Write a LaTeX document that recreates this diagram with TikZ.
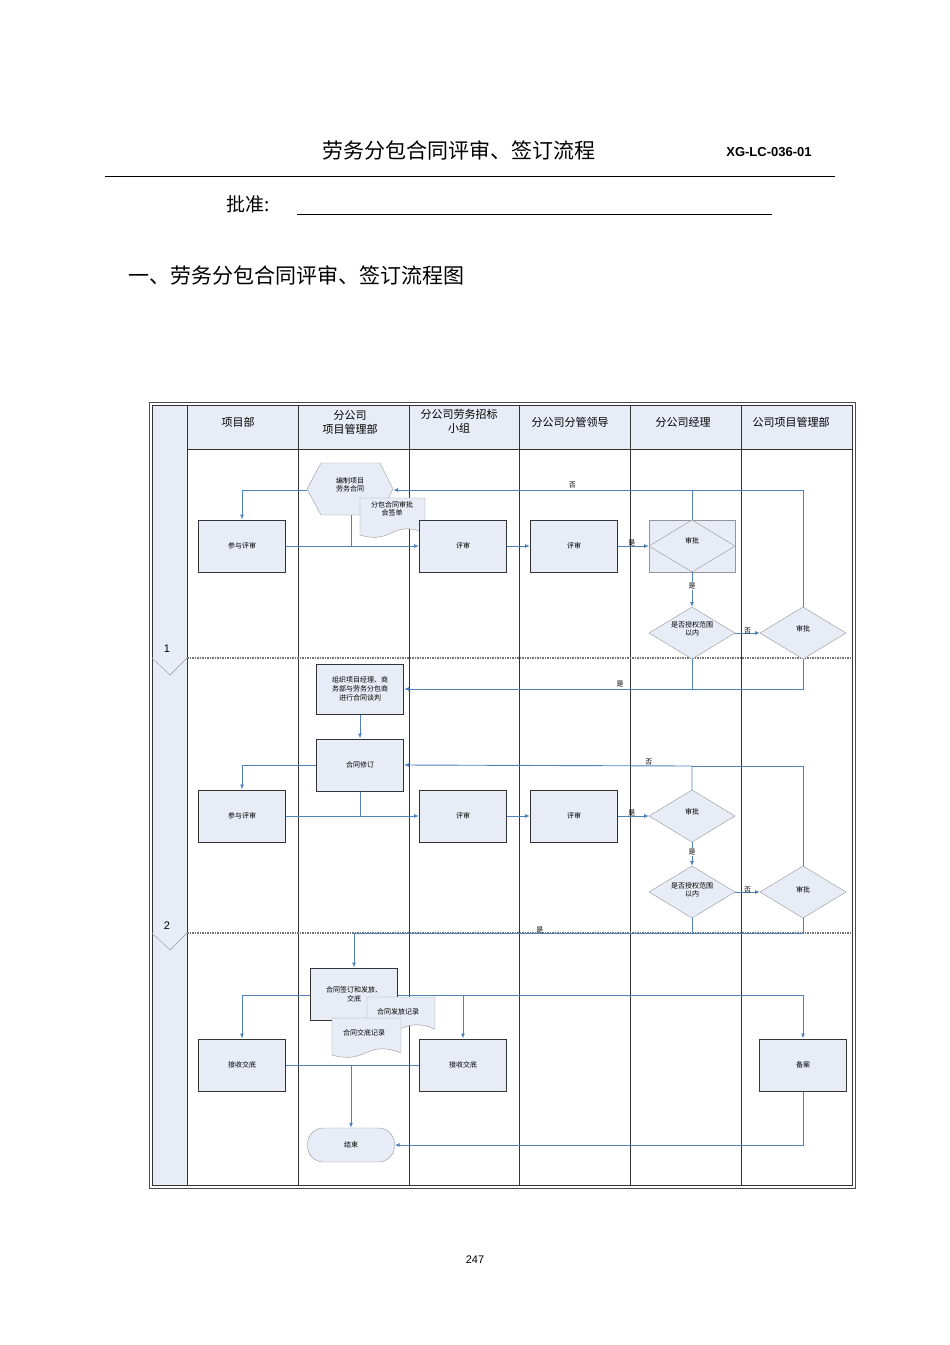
\documentclass[tikz,border=0pt]{standalone}
\usepackage{fontspec}
\newfontfamily\cjk{Noto Sans CJK SC}
\newfontfamily\hv{Liberation Sans}
\usetikzlibrary{arrows.meta}
\definecolor{lf}{RGB}{232,236,246}
\definecolor{eb}{RGB}{79,129,189}
\definecolor{dg}{RGB}{150,150,150}
\tikzset{
 box/.style={draw=black!80,line width=1pt,fill=lf,minimum width=87pt,minimum height=52pt,font=\cjk\fontsize{7}{9}\selectfont,inner sep=1pt,align=center},
 dia/.style={draw=dg,fill=lf,font=\cjk\fontsize{7}{9}\selectfont,align=center},
 ed/.style={draw=eb,line width=0.9pt,-{Latex[length=5pt,width=4pt]}},
 ln/.style={draw=eb,line width=0.9pt},
 lab/.style={font=\cjk\fontsize{7}{8}\selectfont,inner sep=1pt},
 hd/.style={font=\cjk\fontsize{11}{14}\selectfont,align=center}
}
\newcommand{\mydoc}[5]{% x1 y1 x2 y2 name/text
 \path[draw=dg,fill=lf] (#1,#2)--(#3,#2)--(#3,#4-4) .. controls ({(#1+#3)/2},#4-18) and ({(#1+#3)/2},#4+8) .. (#1,#4-2) -- cycle;}
\begin{document}
\begin{tikzpicture}[x=1pt,y=-1pt]
\useasboundingbox (0,0) rectangle (950,1345);
% header
\node[font=\cjk\fontsize{21}{24}\selectfont] (title) at (459,150) {劳务分包合同评审、签订流程};
\node[font=\hv\bfseries\fontsize{13}{15}\selectfont] (code) at (769,152) {XG-LC-036-01};
\draw[line width=0.7pt] (105,176) -- (835,176);
\node[font=\cjk\fontsize{19}{22}\selectfont] (pz) at (248,204) {批准:};
\draw[line width=0.7pt] (297,214) -- (772,214);
\node[font=\cjk\fontsize{21}{24}\selectfont,anchor=west] (sub) at (125,275) {一、劳务分包合同评审、签订流程图};
\node[font=\hv\fontsize{11}{13}\selectfont] (pg) at (475,1260) {247};
% frame
\draw[line width=0.8pt,black!70] (149,402) rectangle (855,1188);
\fill[lf] (152,405) rectangle (187,1185);
\fill[lf] (187,405) rectangle (852,449);
\draw[line width=1pt,black!80] (152,405) rectangle (852,1185);
\foreach \x in {187,298,409,519,630,741} \draw[line width=0.8pt,black!80] (\x,405) -- (\x,1185);
\draw[line width=0.8pt,black!80] (187,449) -- (852,449);
\draw[line width=1.5pt,black!55,densely dotted] (187,658) -- (852,658);
\draw[line width=1.5pt,black!55,densely dotted] (187,933) -- (852,933);
\draw[dg,fill=lf] (152,658) -- (170,675) -- (187,658);
\draw[dg,fill=lf] (152,933) -- (170,950) -- (187,933);
\node[font=\hv\fontsize{11}{13}\selectfont] (p1) at (167,649) {1};
\node[font=\hv\fontsize{11}{13}\selectfont] (p2) at (167,926) {2};
\node[hd] (h1) at (238,422) {项目部};
\node[hd] (h2) at (350,422) {分公司\\项目管理部};
\node[hd] (h3) at (459,421) {分公司劳务招标\\小组};
\node[hd] (h4) at (570,422) {分公司分管领导};
\node[hd] (h5) at (683,422) {分公司经理};
\node[hd] (h6) at (791,422) {公司项目管理部};
% phase 1
\draw[dg,fill=lf] (307,489) -- (321,463) -- (380,463) -- (393,489) -- (380,515) -- (321,515) -- cycle;
\node[lab,align=center] (hex) at (350,485) {编制项目\\劳务合同};
\coordinate (hexL) at (307,490); \coordinate (hexR) at (393,490); \coordinate (hexB) at (351,515);
\mydoc{360}{498}{425}{537}{}
\node[lab,align=center] (doc1) at (392,509) {分包合同审批\\会签单};
\node[box] (a1) at (242,546) {参与评审};
\node[box] (b1) at (463,546) {评审};
\node[box] (c1) at (574,546) {评审};
\node[dia,minimum width=86pt,minimum height=52pt,inner sep=0pt] (d1) at (692,546) {};
\node[lab] at (692,541) {审批};
\path[draw=dg,fill=lf] (649,633)--(692,607)--(735,633)--(692,659)--cycle;
\node[lab,align=center] (e1) at (692,629) {是否授权范围\\以内};
\coordinate (e1L) at (649,633); \coordinate (e1R) at (735,633); \coordinate (e1T) at (692,607); \coordinate (e1B) at (692,659);
\path[draw=dg,fill=lf] (760,633)--(803,607)--(846,633)--(803,659)--cycle;
\node[lab] (f1) at (803,629) {审批};
\coordinate (f1L) at (760,633); \coordinate (f1T) at (803,607); \coordinate (f1B) at (803,659);
\path[draw=dg,fill=lf] (649,546)--(692,520)--(735,546)--(692,572)--cycle;
\coordinate (d1T) at (692,520); \coordinate (d1B) at (692,572); \coordinate (d1L) at (649,546);
\node[lab] at (692,541) {审批};
\draw[ed] (hexL) -| (a1.north);
\draw[ed] (a1.east) -- (b1.west);
\draw[ln] (hexB) -- (351,546);
\draw[ed] (b1) -- (c1);
\draw[ed] (c1.east) -- node[lab,pos=0.45,above=-2pt]{是} (d1L);
\draw[ed] (d1T) -- (692,490) -- node[lab,above,pos=0.4]{否} (hexR);
\draw[ln] (f1T) -- (803,490) -- (692,490);
\draw[ed] (d1B) -- node[lab,pos=0.4,fill=white]{是} (e1T);
\draw[ed] (e1R) -- node[lab,above=-2pt]{否} (f1L);
\node[box,minimum height=50pt] (o1) at (360,689) {组织项目经理、商\\务部与劳务分包商\\进行合同谈判};
\draw[ed] (e1B) -- (692,689) -- node[lab,above,pos=0.25]{是} (o1.east);
\draw[ln] (f1B) -- (803,689) -- (692,689);
% phase 2
\node[box] (m2) at (360,765) {合同修订};
\draw[ed] (o1) -- (m2);
\node[box] (a2) at (242,816) {参与评审};
\node[box] (b2) at (463,816) {评审};
\node[box] (c2) at (574,816) {评审};
\path[draw=dg,fill=lf] (649,816)--(692,790)--(735,816)--(692,842)--cycle;
\node[lab] (d2) at (692,812) {审批};
\coordinate (d2T) at (692,790); \coordinate (d2B) at (692,842); \coordinate (d2L) at (649,816);
\path[draw=dg,fill=lf] (649,892)--(692,866)--(735,892)--(692,918)--cycle;
\node[lab,align=center] (e2) at (692,890) {是否授权范围\\以内};
\coordinate (e2T) at (692,866); \coordinate (e2B) at (692,918); \coordinate (e2R) at (735,892);
\path[draw=dg,fill=lf] (760,892)--(803,866)--(846,892)--(803,918)--cycle;
\node[lab] (f2) at (803,890) {审批};
\coordinate (f2T) at (803,866); \coordinate (f2B) at (803,918); \coordinate (f2L) at (760,892);
\draw[ed] (m2.west) -| (a2.north);
\draw[ln] (m2.south) -- (360,816);
\draw[ed] (a2.east) -- (b2.west);
\draw[ed] (b2) -- (c2);
\draw[ed] (c2.east) -- node[lab,pos=0.45,above=-2pt]{是} (d2L);
\draw[ed] (d2T) -- (692,766) -- node[lab,above=-1pt,pos=0.15]{否} (m2.east);
\draw[ln] (f2T) -- (803,766) -- (692,766);
\draw[ed] (d2B) -- node[lab,pos=0.4,fill=white]{是} (e2T);
\draw[ed] (e2R) -- node[lab,above=-2pt]{否} (f2L);
% phase 3
\node[box] (s3) at (354,994) {合同签订和发放、\\交底};
\draw[ln] (e2B) -- (692,933);
\draw[ln] (f2B) -- (803,933) -- (692,933);
\draw[ed] (692,933) -- node[lab,above=-2pt,pos=0.45]{是} (354,933) -- (s3.north);
\node[box] (a3) at (242,1065) {接收交底};
\node[box] (b3) at (463,1065) {接收交底};
\node[box] (r3) at (803,1065) {备案};
\draw[ed] (s3.west |- 0,995) -| (a3.north);
\draw[ed] (s3.east |- 0,995) -| (b3.north);
\draw[ed] (463,995) -| (r3.north);
\mydoc{367}{997}{435}{1033}{}
\node[lab] (doc2) at (398,1012) {合同发放记录};
\mydoc{332}{1018}{401}{1057}{}
\node[lab] (doc3) at (364,1033) {合同交底记录};
\draw[ln] (a3.east) -- (b3.west);
\node[draw=dg,fill=lf,rounded corners=16pt,minimum width=87pt,minimum height=34pt,font=\cjk\fontsize{7}{9}\selectfont] (end) at (351,1145) {结束};
\draw[ed] (351,1065) -- (end.north);
\draw[ed] (r3.south) |- (end.east);
\end{tikzpicture}
\end{document}
